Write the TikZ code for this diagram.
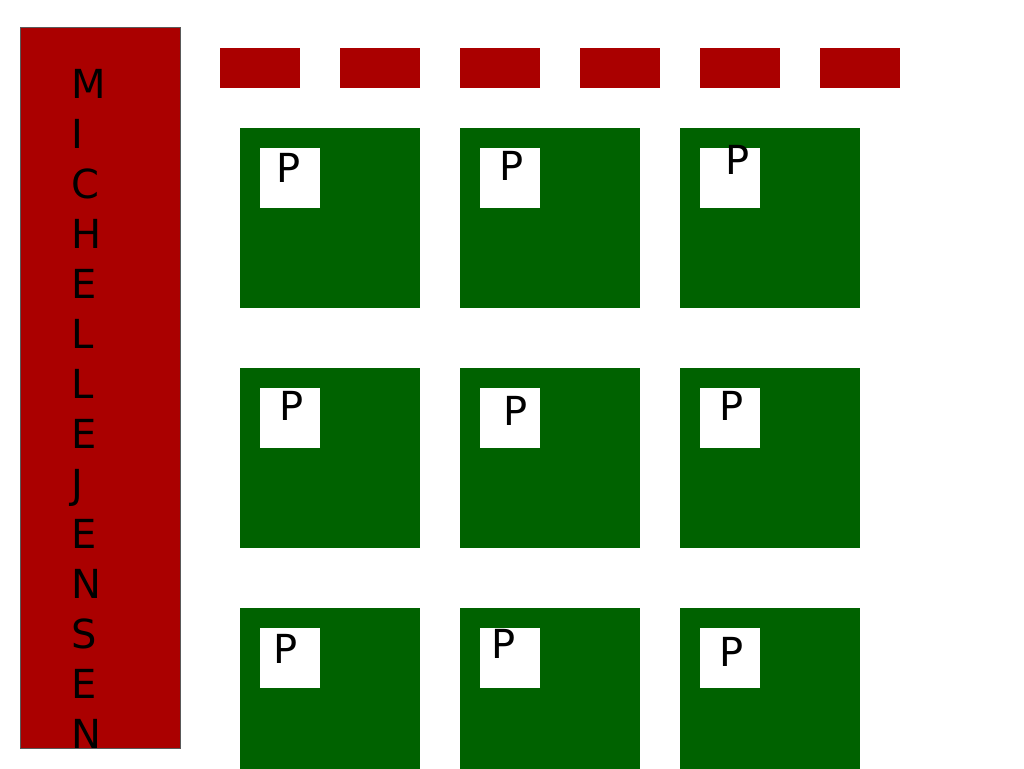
\documentclass[tikz,border=0pt]{standalone}
\usepackage{fontspec}
\setmainfont{DejaVu Sans}
\definecolor{barred}{RGB}{170,0,0}
\definecolor{boxgreen}{RGB}{0,98,0}
\begin{document}
\begin{tikzpicture}[x=1pt,y=-1pt,
  bar/.style={fill=barred,draw=black!65,line width=1pt},
  tab/.style={fill=barred},
  gbox/.style={fill=boxgreen},
  wbox/.style={fill=white},
  letter/.style={anchor=base west,inner sep=0pt,font=\fontsize{40}{40}\selectfont},
]
\useasboundingbox (0,0) rectangle (1024,768);
% left bar
\draw[bar] (20,28) rectangle (180,748);
\foreach \ch [count=\i from 0] in {M,I,C,H,E,L,L,E,J,E,N,S,E,N}{
  \node[letter] (l\i) at (71.5,98.5+50*\i) {\ch};
}
% top tabs
\foreach \i in {0,...,5}{
  \fill[tab] (220+120*\i,48) rectangle (300+120*\i,88);
}
% green boxes with white squares
\foreach \r in {0,1,2}{
  \foreach \c in {0,1,2}{
    \fill[gbox] (240+220*\c,128+240*\r) rectangle (420+220*\c,308+240*\r);
    \fill[wbox] (260+220*\c,148+240*\r) rectangle (320+220*\c,208+240*\r);
  }
}
% P labels
\node[letter] (p11) at (276,182) {P};
\node[letter] (p12) at (499,180) {P};
\node[letter] (p13) at (725,174) {P};
\node[letter] (p21) at (279,420) {P};
\node[letter] (p22) at (503,425) {P};
\node[letter] (p23) at (719,420) {P};
\node[letter] (p31) at (273,663) {P};
\node[letter] (p32) at (491,658) {P};
\node[letter] (p33) at (719,666) {P};
\end{tikzpicture}
\end{document}
